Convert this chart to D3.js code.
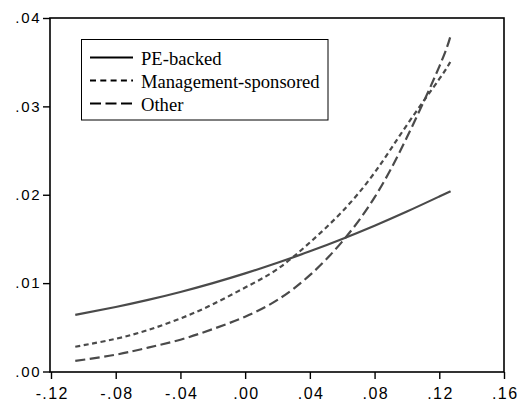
<!DOCTYPE html>
<html>
<head>
<meta charset="utf-8">
<script src="https://cdn.jsdelivr.net/npm/d3@7"></script>
<style>
  html, body { margin: 0; padding: 0; background: #fff; }
  svg { display: block; }
  .x-label { font-family: "Liberation Sans", Arial, Helvetica, sans-serif; font-size: 16px; letter-spacing: 1.4px; fill: #000; }
  .y-label { font-family: "Liberation Sans", Arial, Helvetica, sans-serif; font-size: 15px; letter-spacing: 1.8px; fill: #000; }
  .legend-label { font-family: "Liberation Serif", "Times New Roman", serif; font-size: 18.6px; fill: #000; }
</style>
</head>
<body>
<svg id="chart" width="523" height="411"></svg>
<script>
// Horizontal positions where each curve is sampled
const xValues = [-0.105, -0.08, -0.06, -0.04, -0.02, 0.00, 0.02, 0.04, 0.06, 0.08, 0.10, 0.12, 0.127];

// Series values
const peBacked   = [0.0064, 0.0073, 0.0081, 0.0090, 0.0100, 0.0111, 0.0123, 0.0136, 0.0150, 0.0165, 0.0181, 0.0198, 0.0204];
const mgmtSpons  = [0.0028, 0.0037, 0.0047, 0.0060, 0.0076, 0.0095, 0.0116, 0.0146, 0.0181, 0.0225, 0.0279, 0.0331, 0.0351];
const otherBuy   = [0.0012, 0.0019, 0.0027, 0.0036, 0.0048, 0.0062, 0.0081, 0.0109, 0.0147, 0.0197, 0.0265, 0.0345, 0.0380];

const seriesNames = ["PE-backed", "Management-sponsored", "Other"];
const seriesDash  = ["none", "5,3.5", "10,4.5"];
const legendDash  = ["none", "6,4.3", "11,4.5"];

// Tick labels
const xTicks = [-0.12, -0.08, -0.04, 0.00, 0.04, 0.08, 0.12, 0.16];
const xTickLabels = ["-.12", "-.08", "-.04", ".00", ".04", ".08", ".12", ".16"];
const yTicks = [0.00, 0.01, 0.02, 0.03, 0.04];
const yTickLabels = [".00", ".01", ".02", ".03", ".04"];

const svg = d3.select("#chart");
const frame = { left: 50, right: 504, top: 18, bottom: 372 };

const x = d3.scaleLinear().domain([-0.12, 0.16]).range([51, 504]);
const y = d3.scaleLinear().domain([0.00, 0.04]).range([371.5, 18]);

// Curves
const allSeries = [peBacked, mgmtSpons, otherBuy];
const line = d3.line()
  .x(d => x(d[0]))
  .y(d => y(d[1]))
  .curve(d3.curveNatural);

svg.append("g").selectAll("path")
  .data(allSeries)
  .join("path")
  .attr("d", vals => line(xValues.map((xv, i) => [xv, vals[i]])))
  .attr("fill", "none")
  .attr("stroke", "#4a4a4a")
  .attr("stroke-width", 2.2)
  .attr("stroke-dasharray", (d, i) => seriesDash[i]);

// Plot frame
svg.append("rect")
  .attr("x", frame.left)
  .attr("y", frame.top)
  .attr("width", frame.right - frame.left)
  .attr("height", frame.bottom - frame.top)
  .attr("fill", "none")
  .attr("stroke", "#000")
  .attr("stroke-width", 1.6);

// Bottom axis
const xAxis = d3.axisBottom(x)
  .tickValues(xTicks)
  .tickSize(7)
  .tickSizeOuter(0)
  .tickPadding(9)
  .tickFormat((d, i) => xTickLabels[i]);
const gx = svg.append("g").attr("transform", `translate(0,${frame.bottom})`).call(xAxis);
gx.select(".domain").remove();
gx.selectAll(".tick line").attr("stroke", "#000").attr("stroke-width", 1.4);
gx.selectAll(".tick text").attr("class", "x-label").attr("font-size", null).attr("font-family", null)
  .attr("dx", "0.7px");

// Left axis
const yAxis = d3.axisLeft(y)
  .tickValues(yTicks)
  .tickSize(7)
  .tickSizeOuter(0)
  .tickPadding(1.5)
  .tickFormat((d, i) => yTickLabels[i]);
const gy = svg.append("g").attr("transform", `translate(${frame.left},0)`).call(yAxis);
gy.select(".domain").remove();
gy.selectAll(".tick line").attr("stroke", "#000").attr("stroke-width", 1.4);
gy.selectAll(".tick text").attr("class", "y-label").attr("font-size", null).attr("font-family", null);

// Legend
const legend = svg.append("g");
legend.append("rect")
  .attr("x", 81.5).attr("y", 39.5)
  .attr("width", 246.5).attr("height", 80.5)
  .attr("fill", "#fff")
  .attr("stroke", "#000")
  .attr("stroke-width", 1);

const rows = legend.selectAll("g.row")
  .data(seriesNames)
  .join("g")
  .attr("class", "row")
  .attr("transform", (d, i) => `translate(0,${57.5 + i * 23})`);

rows.append("line")
  .attr("x1", 90).attr("x2", 133)
  .attr("y1", 0).attr("y2", 0)
  .attr("stroke", "#000")
  .attr("stroke-width", 2)
  .attr("stroke-dasharray", (d, i) => legendDash[i]);

rows.append("text")
  .attr("class", "legend-label")
  .attr("x", 141)
  .attr("y", 7)
  .text(d => d);
</script>
</body>
</html>
